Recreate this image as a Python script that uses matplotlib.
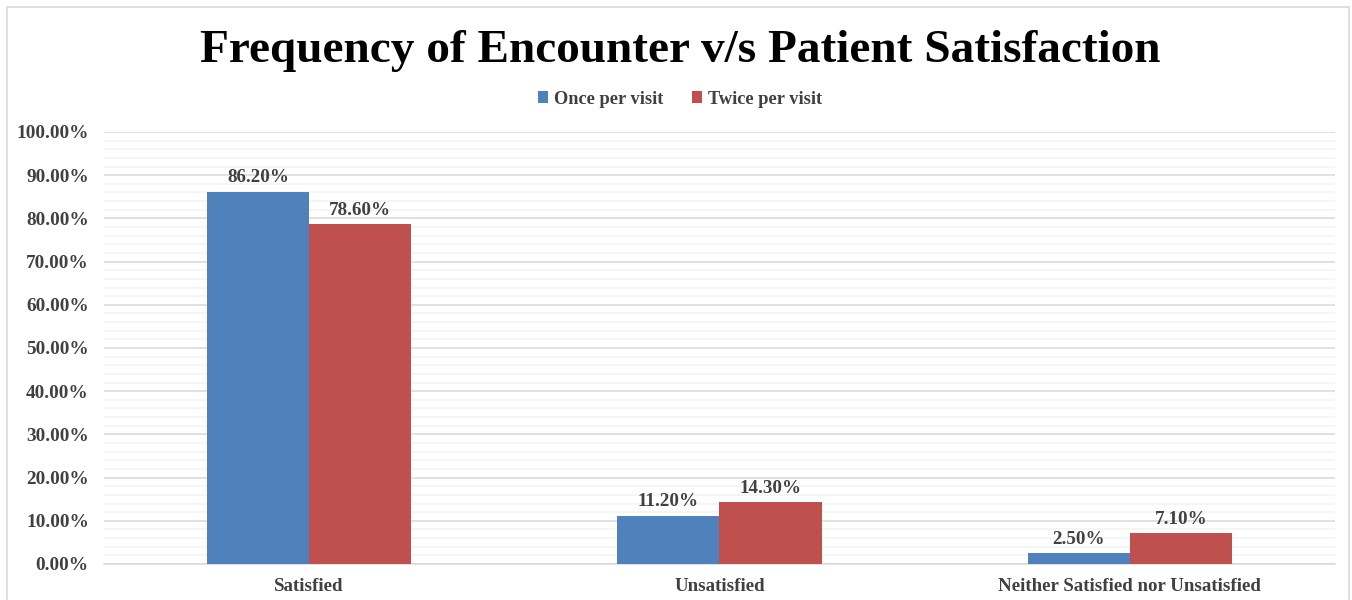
import numpy as np
import matplotlib.pyplot as plt
from matplotlib.patches import Rectangle
from matplotlib.ticker import MultipleLocator, PercentFormatter

categories = ["Satisfied", "Unsatisfied", "Neither Satisfied nor Unsatisfied"]
once_per_visit = [86.2, 11.2, 2.5]
twice_per_visit = [78.6, 14.3, 7.1]
series_names = ["Once per visit", "Twice per visit"]

plt.rcParams['font.family'] = ['Liberation Serif', 'DejaVu Serif']
plt.rcParams['font.weight'] = 'bold'

text_col = "#404040"
blue = "#4F81BD"
red = "#C0504D"

fig = plt.figure(figsize=(13.52, 6), dpi=100)
ax = fig.add_axes([104/1352, 1 - 564/600, (1335 - 104)/1352, (564 - 132)/600])

# chart outer border
fig.patches.append(Rectangle((7/1352, -0.05), (1349 - 7)/1352, 1.05 - 7/600,
                             transform=fig.transFigure, fill=False,
                             edgecolor="#D9D9D9", linewidth=1.2))

x = np.arange(len(categories))
w = 0.249
b1 = ax.bar(x - w/2, once_per_visit, w, color=blue, label=series_names[0], zorder=3)
b2 = ax.bar(x + w/2, twice_per_visit, w, color=red, label=series_names[1], zorder=3)

for bars in (b1, b2):
    for rect in bars:
        v = rect.get_height()
        ax.annotate(f"{v:.2f}%", (rect.get_x() + rect.get_width()/2, v),
                    xytext=(0, 4), textcoords="offset points",
                    ha="center", va="bottom", fontsize=13.7,
                    fontweight="bold", color=text_col)

ax.set_xlim(-0.5, 2.5)
ax.set_ylim(0, 100)
ax.yaxis.set_major_locator(MultipleLocator(10))
ax.yaxis.set_minor_locator(MultipleLocator(2))
ax.yaxis.set_major_formatter(PercentFormatter(decimals=2))
ax.grid(axis="y", which="major", color="#D9D9D9", linewidth=1.1, zorder=0)
ax.grid(axis="y", which="minor", color="#F2F2F2", linewidth=1.1, zorder=0)
ax.set_axisbelow(True)

for s in ["top", "right", "left"]:
    ax.spines[s].set_visible(False)
ax.spines["bottom"].set_color("#D9D9D9")
ax.spines["bottom"].set_linewidth(1.1)

ax.set_xticks(x)
ax.set_xticklabels(categories)
ax.tick_params(axis="both", which="both", length=0, colors=text_col)
ax.tick_params(axis="y", labelsize=13.9, pad=11)
ax.tick_params(axis="x", labelsize=13.6, pad=10)

fig.text(0.503, 1 - 51/600, "Frequency of Encounter v/s Patient Satisfaction",
         ha="center", va="center", fontsize=34, fontweight="bold", color="black")

leg = fig.legend(handles=[b1, b2], loc="center", bbox_to_anchor=(0.503, 1 - 99/600),
                 ncol=2, frameon=False, fontsize=13.2, handlelength=0.55,
                 handleheight=0.55, handletextpad=0.3, columnspacing=1.6)
for t in leg.get_texts():
    t.set_color(text_col)

fig.savefig("out.png", dpi=100)
